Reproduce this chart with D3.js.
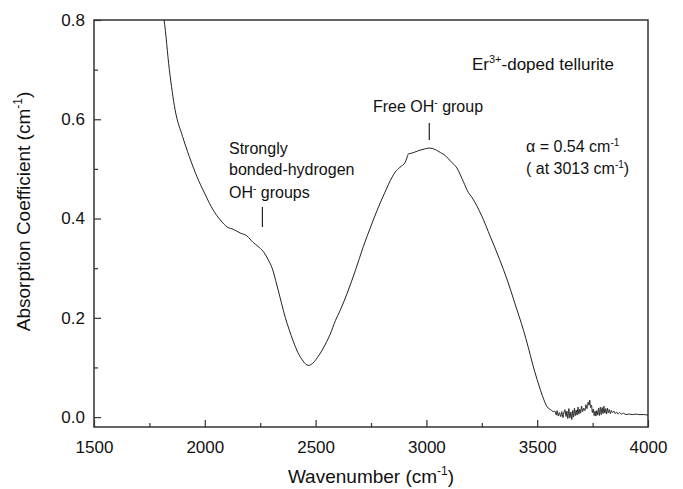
<!DOCTYPE html>
<html>
<head>
<meta charset="utf-8">
<script src="https://cdn.jsdelivr.net/npm/d3@7"></script>
<style>
  body { margin: 0; background: #fff; }
  text { font-family: "Liberation Sans", Arial, sans-serif; fill: #111; }
</style>
</head>
<body>
<div id="chart"></div>
<script>
// absorption spectrum
var wavenumber = [1800, 1816, 1840, 1866, 1900, 1930, 1965, 2000, 2038, 2070, 2101, 2130, 2159, 2190, 2218, 2240,
  2263, 2285, 2304, 2320, 2331, 2347, 2363, 2380, 2399, 2420, 2440, 2455, 2467, 2480, 2495, 2508, 2530, 2550,
  2566, 2590, 2611, 2643, 2680, 2715, 2750, 2778, 2810, 2846, 2860, 2880, 2905, 2912, 2918, 2936, 2960, 2990,
  3013, 3040, 3063, 3085, 3108, 3140, 3167, 3190, 3205, 3250, 3289, 3330, 3365, 3400, 3438, 3460, 3478, 3500,
  3515, 3530, 3546, 3560, 3575,
  3580, 3586, 3590, 3595, 3600, 3606, 3611, 3616, 3620, 3625, 3630, 3634, 3638, 3643, 3647, 3652, 3656, 3660,
  3664, 3668, 3672, 3676, 3680, 3684, 3688, 3692, 3696, 3700, 3705, 3710, 3715, 3720, 3725, 3730, 3734, 3737,
  3741, 3745, 3749, 3753, 3757, 3761, 3765, 3769, 3773, 3777, 3781, 3785, 3789, 3793, 3797, 3801, 3805, 3809,
  3813, 3817, 3821, 3826, 3830, 3835, 3840, 3846, 3852, 3858, 3865, 3872, 3880, 3890, 3900, 3915, 3930, 3945,
  3960, 3980, 4000];
var absorption = [0.83, 0.80, 0.70, 0.619, 0.565, 0.525, 0.484, 0.450, 0.417, 0.397, 0.383, 0.378, 0.371, 0.365, 0.352, 0.344,
  0.334, 0.318, 0.300, 0.275, 0.256, 0.228, 0.201, 0.177, 0.153, 0.130, 0.115, 0.107, 0.104, 0.106, 0.112, 0.120, 0.135, 0.152,
  0.167, 0.195, 0.215, 0.250, 0.296, 0.343, 0.385, 0.417, 0.450, 0.484, 0.494, 0.503, 0.514, 0.522, 0.530, 0.532, 0.536, 0.540,
  0.542, 0.539, 0.533, 0.527, 0.516, 0.500, 0.474, 0.452, 0.443, 0.405, 0.363, 0.318, 0.276, 0.228, 0.175, 0.140, 0.109, 0.075,
  0.054, 0.035, 0.020, 0.015, 0.011,
  0.012, 0.004, 0.013, 0.002, 0.009, 0.001, 0.011, -0.001, 0.008, 0.015, 0.001, 0.012, -0.003, 0.017, -0.002, 0.010, -0.005, 0.013,
  0.000, 0.018, 0.003, 0.014, 0.004, 0.020, 0.006, 0.016, 0.008, 0.022, 0.011, 0.018, 0.013, 0.025, 0.017, 0.030, 0.024, 0.034,
  0.019, 0.024, 0.009, 0.016, 0.003, 0.012, 0.002, 0.013, 0.004, 0.018, 0.003, 0.020, 0.005, 0.019, 0.007, 0.022, 0.008, 0.017,
  0.006, 0.018, 0.009, 0.015, 0.007, 0.013, 0.009, 0.012, 0.007, 0.010, 0.006, 0.009, 0.006, 0.008, 0.005, 0.006, 0.005, 0.006,
  0.005, 0.005, 0.004];

var xTicks = [1500, 2000, 2500, 3000, 3500, 4000];
var xMinor = [1750, 2250, 2750, 3250, 3750];
var yTicks = [0.0, 0.2, 0.4, 0.6, 0.8];
var yMinor = [0.1, 0.3, 0.5, 0.7];

var margin = {top: 20, right: 35, bottom: 62, left: 94},
    width = 683 - margin.left - margin.right,
    height = 489 - margin.top - margin.bottom;

var svg = d3.select("#chart").append("svg")
    .attr("width", 683)
    .attr("height", 489)
  .append("g")
    .attr("transform", "translate(" + margin.left + "," + margin.top + ")");

var x = d3.scaleLinear().domain([1500, 4000]).range([0, width]);
var y = d3.scaleLinear().domain([-0.02, 0.8]).range([height, 0]);

svg.append("clipPath").attr("id", "clip")
  .append("rect").attr("width", width).attr("height", height);

// ticks (inside), only left and bottom
svg.append("g").attr("transform", "translate(0," + height + ")")
    .call(d3.axisBottom(x).tickValues(xTicks).tickSize(-7).tickPadding(14).tickFormat(d3.format("d")));
svg.append("g").attr("transform", "translate(0," + height + ")")
    .call(d3.axisBottom(x).tickValues(xMinor).tickSize(-4).tickFormat(""));
svg.append("g")
    .call(d3.axisLeft(y).tickValues(yTicks).tickSize(-7).tickPadding(9).tickFormat(d3.format(".1f")));
svg.append("g")
    .call(d3.axisLeft(y).tickValues(yMinor).tickSize(-4).tickFormat(""));

svg.selectAll(".domain").remove();
svg.selectAll(".tick line").attr("stroke", "#333").attr("stroke-width", 1.2);
svg.selectAll(".tick text").style("font-size", "17px").attr("fill", "#111");

svg.append("rect")
    .attr("width", width).attr("height", height)
    .attr("fill", "none").attr("stroke", "#333").attr("stroke-width", 1.5);

var pts = wavenumber.map(function(d, i) { return [d, absorption[i]]; });
svg.append("path")
    .datum(pts)
    .attr("clip-path", "url(#clip)")
    .attr("fill", "none")
    .attr("stroke", "#222")
    .attr("stroke-width", 1)
    .attr("d", d3.line().x(function(d) { return x(d[0]); }).y(function(d) { return y(d[1]); })
      .curve(d3.curveMonotoneX));

// text with superscripts: parts are strings or ["^", text]
function label(px, py, parts, size, g) {
  var t = (g || svg).append("text").attr("x", px).attr("y", py).style("font-size", size + "px");
  var shift = Math.round(size * 0.4), up = false;
  parts.forEach(function(p) {
    if (typeof p !== "string") {
      t.append("tspan").attr("dy", -shift).style("font-size", Math.round(size * 0.62) + "px").text(p[1]);
      up = true;
    } else {
      t.append("tspan").attr("dy", up ? shift : 0).text(p);
      up = false;
    }
  });
  return t;
}

// axis titles
label(width / 2, height + 56, ["Wavenumber (cm", ["^", "-1"], ")"], 19).attr("text-anchor", "middle");
var ytg = svg.append("g").attr("transform", "translate(-64," + (height / 2 - 12) + ") rotate(-90)");
label(0, 0, ["Absorption Coefficient (cm", ["^", "-1"], ")"], 19, ytg).attr("text-anchor", "middle");

// annotations
label(472 - margin.left, 70 - margin.top, ["Er", ["^", "3+"], "-doped tellurite"], 17);
label(373 - margin.left, 112 - margin.top, ["Free OH", ["^", "-"], " group"], 16);
label(526 - margin.left, 152 - margin.top, ["\u03b1 = 0.54 cm", ["^", "-1"]], 16);
label(526 - margin.left, 174 - margin.top, ["( at 3013 cm", ["^", "-1"], ")"], 16);
label(229 - margin.left, 154 - margin.top, ["Strongly"], 16);
label(229 - margin.left, 175 - margin.top, ["bonded-hydrogen"], 16);
label(229 - margin.left, 198 - margin.top, ["OH", ["^", "-"], " groups"], 16);

svg.append("line").attr("x1", x(3013)).attr("x2", x(3013)).attr("y1", 123 - margin.top).attr("y2", 140 - margin.top)
    .attr("stroke", "#222").attr("stroke-width", 1.2);
svg.append("line").attr("x1", x(2260)).attr("x2", x(2260)).attr("y1", 207 - margin.top).attr("y2", 227 - margin.top)
    .attr("stroke", "#222").attr("stroke-width", 1.2);
</script>
</body>
</html>
